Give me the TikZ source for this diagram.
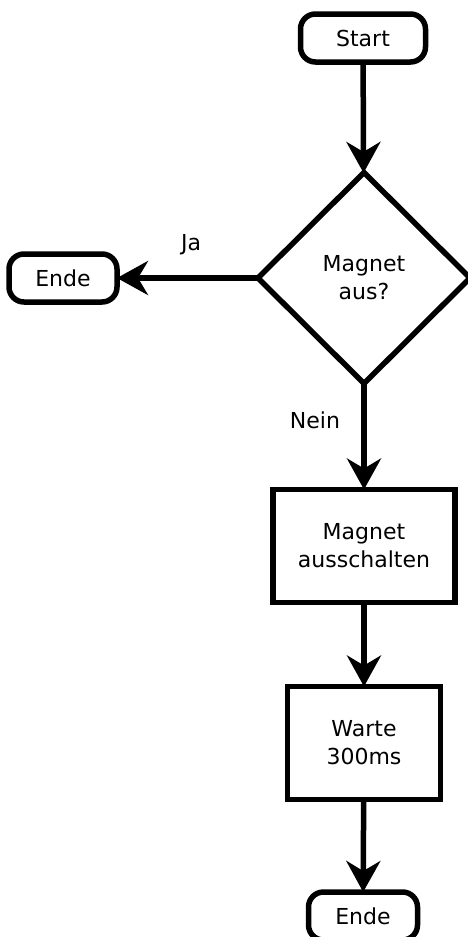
\documentclass[tikz,border=0pt]{standalone}
\usepackage{fontspec}
\setmainfont{DejaVu Sans}
\usetikzlibrary{shapes.geometric,arrows.meta}
\begin{document}
\begin{tikzpicture}[x=1pt,y=-1pt,line width=5.5pt,
  every node/.style={font=\fontsize{22}{28}\selectfont,align=center,inner sep=0pt,outer sep=0pt},
  term/.style={draw,rounded corners=15pt,minimum height=48pt},
  proc/.style={draw,minimum height=113pt},
  decide/.style={draw,diamond,minimum width=212pt,minimum height=211pt},
  flow/.style={-{Stealth[length=31pt,width=34pt,inset=10pt]}},
  lbl/.style={font=\fontsize{22}{26}\selectfont}]
  \useasboundingbox (0,0) rectangle (467,937);

  \node[term,minimum width=125pt] (start) at (363,38) {Start};
  \node[decide] (check) at (364,278) {Magnet\\aus?};
  \node[term,minimum width=108pt] (endyes) at (63,278) {Ende};
  \node[proc,minimum width=182pt] (off) at (364,546) {Magnet\\ausschalten};
  \node[proc,minimum width=153pt] (wait) at (364,743) {Warte\\300ms};
  \node[term,minimum width=109pt] (endno) at (363,916) {Ende};

  \draw[flow] (start) -- (check);
  \draw[flow] (check.west) -- (endyes.east);
  \draw[flow] (check.south) -- (off.north);
  \draw[flow] (off) -- (wait);
  \draw[flow] (wait) -- (endno);

  \node[lbl] (ja) at (191,245) {Ja};
  \node[lbl] (nein) at (315,420) {Nein};
\end{tikzpicture}
\end{document}
